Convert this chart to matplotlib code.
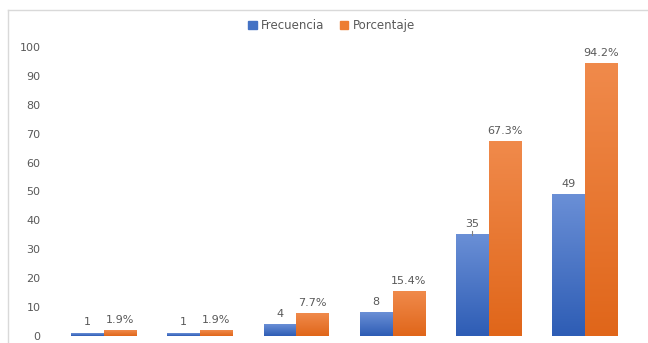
import numpy as np
import matplotlib.pyplot as plt
from matplotlib.colors import LinearSegmentedColormap
from matplotlib.patches import Patch
from matplotlib.lines import Line2D

# Datos
categorias = ['1', '2', '3', '4', '5', '6']
frecuencia = [1, 1, 4, 8, 35, 49]
porcentaje = [1.9, 1.9, 7.7, 15.4, 67.3, 94.2]
etiquetas_pct = ['1.9%', '1.9%', '7.7%', '15.4%', '67.3%', '94.2%']

azul = '#4472C4'
naranja = '#ED7D31'
gris = '#595959'

fig = plt.figure(figsize=(6.48, 3.43), dpi=100)
ax = fig.add_axes([0.086, 0.0204, 0.891, 0.8426])

x = np.arange(len(categorias))
w = 0.34

cmap_azul = LinearSegmentedColormap.from_list('az', ['#2E5DB5', '#6A8FD6'])
cmap_nar = LinearSegmentedColormap.from_list('na', ['#E0661A', '#F08A4B'])
grad = np.linspace(0, 1, 100).reshape(-1, 1)

def barra_gradiente(x0, alto, cmap):
    if alto <= 0:
        return
    ax.imshow(grad, extent=[x0, x0 + w, 0, alto], origin='lower',
              aspect='auto', cmap=cmap, zorder=2)

for i in range(len(categorias)):
    barra_gradiente(x[i] - w, frecuencia[i], cmap_azul)
    barra_gradiente(x[i], porcentaje[i], cmap_nar)
    ax.text(x[i] - w / 2, frecuencia[i] + 2, str(frecuencia[i]), ha='center',
            va='bottom', fontsize=8, color=gris)
    ax.text(x[i] + w / 2, porcentaje[i] + 2, etiquetas_pct[i], ha='center',
            va='bottom', fontsize=8, color=gris)

# marcador pequeño sobre la barra de 35
ax.plot([x[4] - w / 2, x[4] - w / 2], [frecuencia[4], frecuencia[4] + 1.5],
        color='#808080', lw=0.8)

ax.set_xlim(-0.5, 5.5)
ax.set_ylim(0, 100)
ax.set_yticks(range(0, 101, 10))
ax.set_xticks([])
ax.tick_params(axis='y', length=0, labelsize=8, labelcolor=gris, pad=11)
for s in ax.spines.values():
    s.set_visible(False)

handles = [Patch(color=azul), Patch(color=naranja)]
fig.legend(handles, ['Frecuencia', 'Porcentaje'], loc='center',
           bbox_to_anchor=(0.512, 0.925), ncol=2, frameon=False, fontsize=8.5,
           handlelength=0.7, handleheight=0.7, handletextpad=0.4,
           columnspacing=1.3, labelcolor=gris)

# marco del gráfico
fig.add_artist(Line2D([0.012, 1.0], [0.971, 0.971], color='#D9D9D9', lw=1))
fig.add_artist(Line2D([0.012, 0.012], [0.0, 0.971], color='#D9D9D9', lw=1))

fig.savefig('out.png', dpi=100)
